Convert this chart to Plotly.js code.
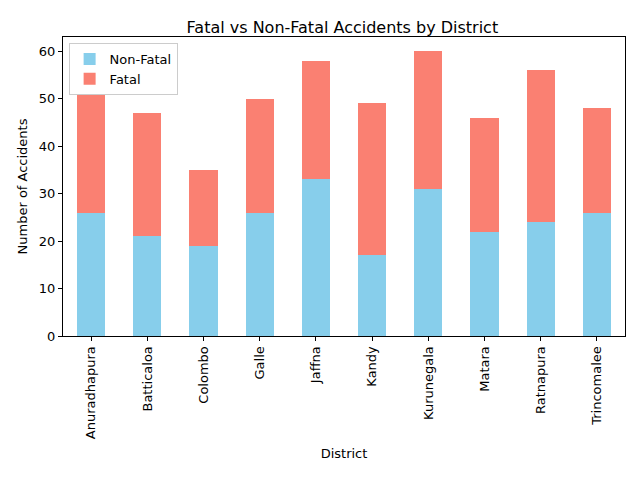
<!DOCTYPE html>
<html><head><meta charset="utf-8">
<script src="https://cdn.plot.ly/plotly-3.0.1.min.js"></script>
<style>body{margin:0}#chart{width:640px;height:480px}</style>
</head><body><div id="chart"></div>
<script>
const districts = ['Anuradhapura','Batticaloa','Colombo','Galle','Jaffna','Kandy','Kurunegala','Matara','Ratnapura','Trincomalee'];
const nonFatal = [26, 21, 19, 26, 33, 17, 31, 22, 24, 26];
const fatal    = [25, 26, 16, 24, 25, 32, 29, 24, 32, 22];

const font = { family: 'DejaVu Sans, sans-serif', size: 13, color: '#000' };
const axisBase = {
  showgrid: false, zeroline: false, showline: true, linecolor: '#000', linewidth: 1,
  mirror: true, ticks: 'outside', ticklen: 4, tickcolor: '#000', tickfont: font,
};

const traces = [
  { type: 'bar', name: 'Non-Fatal', x: districts, y: nonFatal, marker: { color: '#87ceeb' }, width: 0.5 },
  { type: 'bar', name: 'Fatal', x: districts, y: fatal, marker: { color: '#fa8072' }, width: 0.5 },
];

const layout = {
  barmode: 'stack',
  width: 640, height: 480,
  margin: { t: 37, r: 15, b: 144, l: 63 },
  paper_bgcolor: '#fff', plot_bgcolor: '#fff',
  font: font,
  title: { text: 'Fatal vs Non-Fatal Accidents by District', font: { family: 'DejaVu Sans, sans-serif', size: 16 }, x: 0.535, y: 0.955, xanchor: 'center' },
  xaxis: { ...axisBase, range: [-0.5, 9.5], tickangle: -90, title: { text: 'District', font: font, standoff: 10 } },
  yaxis: { ...axisBase, range: [0, 63], tickvals: [0,10,20,30,40,50,60], title: { text: 'Number of Accidents', font: font, standoff: 8 } },
  legend: { x: 0.01, y: 0.98, xanchor: 'left', yanchor: 'top', bordercolor: '#ccc', borderwidth: 1, font: font, traceorder: 'normal', itemwidth: 30 },
  showlegend: true,
};

Plotly.newPlot('chart', traces, layout, { displayModeBar: false, staticPlot: true });
</script></body></html>
